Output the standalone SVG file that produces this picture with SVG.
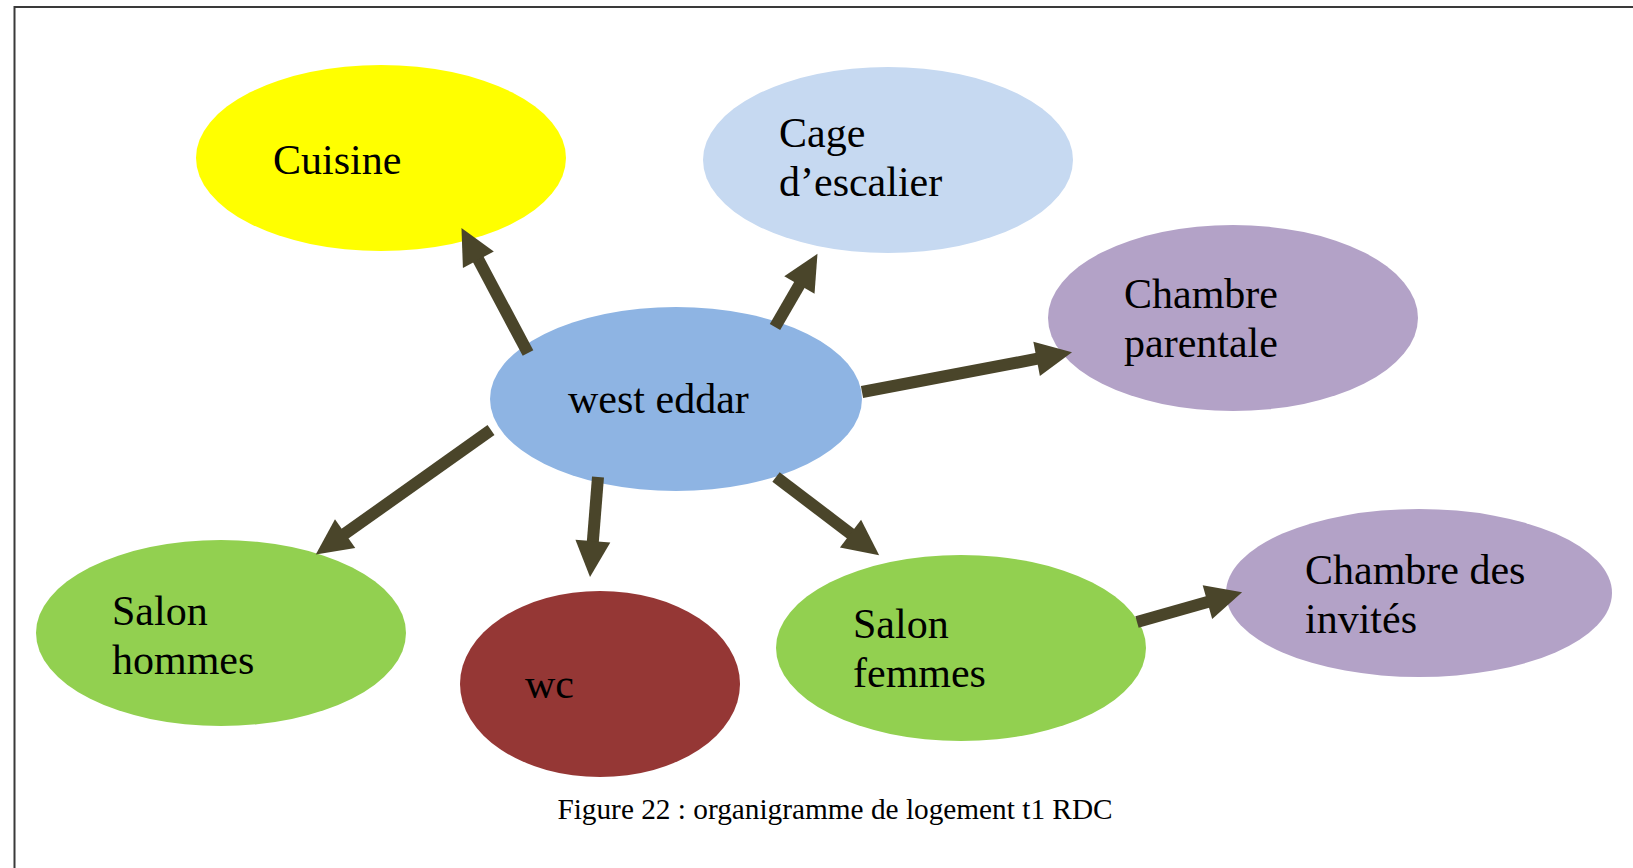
<svg xmlns="http://www.w3.org/2000/svg" width="1633" height="868" viewBox="0 0 1633 868">
<style>
.lbl{font-family:"Liberation Serif","Times New Roman",serif;font-size:42px;fill:#000}
.cap{font-family:"Liberation Serif","Times New Roman",serif;font-size:29.3px;fill:#000}
.conn line{stroke:#4A452A;stroke-width:12;marker-end:url(#ah)}
</style>
<defs>
<marker id="ah" markerUnits="userSpaceOnUse" markerWidth="37" markerHeight="36" refX="1" refY="17.5" orient="auto" overflow="visible">
<path d="M0,0 L36,17.5 L0,35 Z" fill="#4A452A"/>
</marker>
</defs>
<rect width="1633" height="868" fill="#fff"/>
<path d="M14.5,868 V7 H1633" fill="none" stroke="#3a3a3a" stroke-width="2"/>
<g id="cuisine"><ellipse cx="381" cy="158" rx="185" ry="93" fill="#FFFF00"/><text class="lbl" x="273" y="174">Cuisine</text></g>
<g id="cage"><ellipse cx="888" cy="160" rx="185" ry="93" fill="#C6D9F1"/><text class="lbl" x="779" y="147">Cage</text><text class="lbl" x="779" y="196">d’escalier</text></g>
<g id="parentale"><ellipse cx="1233" cy="318" rx="185" ry="93" fill="#B3A2C7"/><text class="lbl" x="1124" y="308">Chambre</text><text class="lbl" x="1124" y="357">parentale</text></g>
<g id="west-eddar"><ellipse cx="676" cy="399" rx="186" ry="92" fill="#8EB4E3"/><text class="lbl" x="568" y="413">west eddar</text></g>
<g id="salon-hommes"><ellipse cx="221" cy="633" rx="185" ry="93" fill="#92D050"/><text class="lbl" x="112" y="625">Salon</text><text class="lbl" x="112" y="674">hommes</text></g>
<g id="wc"><ellipse cx="600" cy="684" rx="140" ry="93" fill="#953735"/><text class="lbl" x="525" y="698">wc</text></g>
<g id="salon-femmes"><ellipse cx="961" cy="648" rx="185" ry="93" fill="#92D050"/><text class="lbl" x="853" y="638">Salon</text><text class="lbl" x="853" y="687">femmes</text></g>
<g id="invites"><ellipse cx="1419" cy="593" rx="193" ry="84" fill="#B3A2C7"/><text class="lbl" x="1305" y="584">Chambre des</text><text class="lbl" x="1305" y="633">invités</text></g>
<g id="connectors" class="conn">
<line x1="528" y1="353" x2="477.9" y2="258.8"/>
<line x1="775" y1="327" x2="799.9" y2="284.1"/>
<line x1="862" y1="392" x2="1037.6" y2="358.7"/>
<line x1="491" y1="430" x2="344.3" y2="534.2"/>
<line x1="598" y1="477" x2="592.8" y2="542.1"/>
<line x1="776" y1="477" x2="851.3" y2="534.2"/>
<line x1="1137" y1="622" x2="1208.4" y2="601.8"/>
</g>
<text class="cap" x="835" y="819" text-anchor="middle">Figure 22 : organigramme de logement t1 RDC</text>
</svg>
